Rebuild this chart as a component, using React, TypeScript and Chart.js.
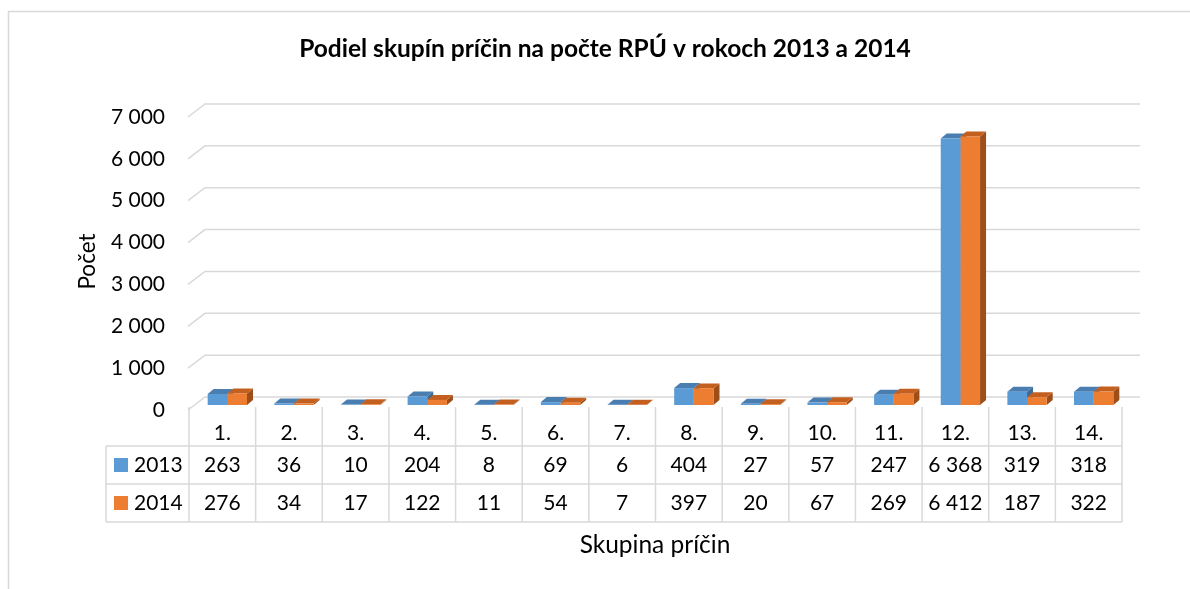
import React, { useEffect, useRef } from 'react';
import { Chart, registerables } from 'chart.js';

Chart.register(...registerables);

// ---- data ----
const categories = ['1.', '2.', '3.', '4.', '5.', '6.', '7.', '8.', '9.', '10.', '11.', '12.', '13.', '14.'];
const seriesNames = ['2013', '2014'];
const values2013 = [263, 36, 10, 204, 8, 69, 6, 404, 27, 57, 247, 6368, 319, 318];
const values2014 = [276, 34, 17, 122, 11, 54, 7, 397, 20, 67, 269, 6412, 187, 322];
const yTicks = [0, 1000, 2000, 3000, 4000, 5000, 6000, 7000];
const chartTitle = 'Podiel skupín príčin na počte RPÚ v rokoch 2013 a 2014';
const yAxisTitle = 'Počet';
const xAxisTitle = 'Skupina príčin';

// ---- styles ----
const FONT = 'Lato, "Open Sans", sans-serif';
const TEXT = '#000000';
const GRID = '#d9d9d9';
const FRONT = ['#5B9BD5', '#ED7D31'];
const TOP = ['#4A7DB0', '#C4601F'];
const SIDE = ['#3D6A96', '#9E4E18'];
const DX = 6;
const DY = 5;

const fmt = (n: number) => String(n).replace(/\B(?=(\d{3})+(?!\d))/g, ' ');

const decor = {
  id: 'decor',
  beforeDatasetsDraw(chart: any) {
    const { ctx, chartArea: ca, scales } = chart;
    const y = scales.y;
    ctx.save();
    // outer frame
    ctx.strokeStyle = GRID;
    ctx.lineWidth = 1.5;
    ctx.beginPath();
    ctx.moveTo(8.5, chart.height);
    ctx.lineTo(8.5, 11.5);
    ctx.lineTo(chart.width, 11.5);
    ctx.stroke();
    // 3D gridlines (side wall diagonal + back wall)
    yTicks.forEach((v) => {
      const py = y.getPixelForValue(v);
      const fx = ca.left - 6;
      const fy = py + 5;
      const bx = fx + 17;
      const by = fy - 13;
      ctx.beginPath();
      ctx.moveTo(fx, fy);
      ctx.lineTo(bx, by);
      ctx.lineTo(ca.right + 13, by);
      ctx.stroke();
    });
    // bar depth faces
    chart.data.datasets.forEach((_ds: any, di: number) => {
      const meta = chart.getDatasetMeta(di);
      meta.data.forEach((bar: any) => {
        const { x, y: top, base, width } = bar.getProps(['x', 'y', 'base', 'width'], true);
        const l = x - width / 2;
        const r = x + width / 2;
        ctx.fillStyle = SIDE[di];
        ctx.beginPath();
        ctx.moveTo(r, top);
        ctx.lineTo(r + DX, top - DY);
        ctx.lineTo(r + DX, base - DY);
        ctx.lineTo(r, base);
        ctx.closePath();
        ctx.fill();
        ctx.fillStyle = TOP[di];
        ctx.beginPath();
        ctx.moveTo(l, top);
        ctx.lineTo(l + DX, top - DY);
        ctx.lineTo(r + DX, top - DY);
        ctx.lineTo(r, top);
        ctx.closePath();
        ctx.fill();
      });
    });
    ctx.restore();
  },
  afterDraw(chart: any) {
    const { ctx, chartArea: ca } = chart;
    ctx.save();
    ctx.fillStyle = TEXT;
    // title
    ctx.font = `bold 24.5px ${FONT}`;
    ctx.textAlign = 'center';
    ctx.textBaseline = 'alphabetic';
    ctx.fillText(chartTitle, 605, 57);
    // y axis title
    ctx.save();
    ctx.font = `22.5px ${FONT}`;
    ctx.translate(95, 261.5);
    ctx.rotate(-Math.PI / 2);
    ctx.fillText(yAxisTitle, 0, 0);
    ctx.restore();
    // x axis title
    ctx.font = `24.5px ${FONT}`;
    ctx.fillText(xAxisTitle, 655, 553);

    // data table
    const n = categories.length;
    const colW = (ca.right - ca.left) / n;
    const tl = ca.left - 5;
    const tr = tl + colW * n;
    const legL = 106;
    const r0 = ca.bottom + 2;
    const r1 = ca.bottom + 41;
    const r2 = ca.bottom + 79;
    const r3 = ca.bottom + 117;
    ctx.strokeStyle = GRID;
    ctx.lineWidth = 1.5;
    ctx.beginPath();
    for (let i = 0; i <= n; i++) {
      const x = tl + i * colW;
      ctx.moveTo(x, r0);
      ctx.lineTo(x, r3);
    }
    ctx.moveTo(legL, r1);
    ctx.lineTo(legL, r3);
    [r1, r2, r3].forEach((ry) => {
      ctx.moveTo(legL, ry);
      ctx.lineTo(tr, ry);
    });
    ctx.stroke();

    ctx.font = `21px ${FONT}`;
    ctx.textAlign = 'center';
    ctx.fillStyle = TEXT;
    const rows = [values2013, values2014];
    categories.forEach((c, i) => {
      const cx = tl + (i + 0.5) * colW;
      ctx.fillText(c, cx, r1 - 6);
      rows.forEach((vals, ri) => {
        ctx.fillText(fmt(vals[i]), cx, (ri === 0 ? r2 : r3) - 12);
      });
    });
    // legend cells
    seriesNames.forEach((name, ri) => {
      const rowTop = ri === 0 ? r1 : r2;
      const rowBot = ri === 0 ? r2 : r3;
      const cy = (rowTop + rowBot) / 2;
      ctx.fillStyle = FRONT[ri];
      ctx.fillRect(114, cy - 7, 14, 14);
      ctx.fillStyle = TEXT;
      ctx.textAlign = 'left';
      ctx.fillText(name, 134, rowBot - 12);
    });
    ctx.restore();
  },
};

export default function App() {
  const ref = useRef<HTMLCanvasElement | null>(null);
  useEffect(() => {
    if (!ref.current) return;
    const chart = new Chart(ref.current, {
      type: 'bar',
      data: {
        labels: categories,
        datasets: [
          { label: seriesNames[0], data: values2013, backgroundColor: FRONT[0], borderWidth: 0, categoryPercentage: 0.59, barPercentage: 1 },
          { label: seriesNames[1], data: values2014, backgroundColor: FRONT[1], borderWidth: 0, categoryPercentage: 0.59, barPercentage: 1 },
        ],
      },
      options: {
        responsive: false,
        animation: false,
        devicePixelRatio: 1,
        layout: { padding: { top: 112, right: 63, bottom: 184, left: 0 } },
        plugins: { legend: { display: false }, tooltip: { enabled: false }, title: { display: false } },
        scales: {
          x: { display: false, offset: true, grid: { display: false } },
          y: {
            min: 0,
            max: 7000,
            afterBuildTicks: (s: any) => {
              s.ticks = yTicks.map((v) => ({ value: v }));
            },
            afterFit: (s: any) => {
              s.width = 194;
            },
            grid: { display: false, drawTicks: false },
            border: { display: false },
            ticks: {
              padding: 29,
              labelOffset: 5,
              color: TEXT,
              font: { family: FONT, size: 21 },
              callback: (v: any) => fmt(Number(v)),
            },
          },
        },
      },
      plugins: [decor],
    });
    return () => chart.destroy();
  }, []);
  return (
    <div style={{ position: 'fixed', left: 0, top: 0, width: 1190, height: 589, background: '#fff' }}>
      <canvas ref={ref} width={1190} height={589} />
    </div>
  );
}
